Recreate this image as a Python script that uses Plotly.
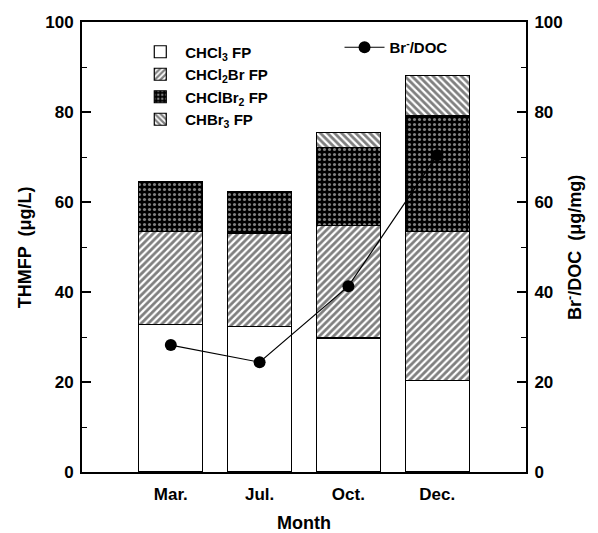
import plotly.graph_objects as go

months = ["Mar.", "Jul.", "Oct.", "Dec."]
chcl3 = [32.7, 32.4, 29.8, 20.4]
chcl2br = [20.8, 20.7, 24.9, 33.1]
chclbr2 = [10.8, 9.3, 17.5, 25.8]
chbr3 = [0.3, 0.0, 3.3, 8.9]
br_doc = [28.2, 24.4, 41.3, 70.4]

FONT = "Liberation Sans, Arial, sans-serif"
fig = go.Figure()

def bar(name, vals, shape, bg="white", fg="black", size=6, solidity=0.35):
    pat = dict(shape=shape, bgcolor=bg, fgcolor=fg, size=size, solidity=solidity, fillmode="overlay") if shape else None
    fig.add_trace(go.Bar(
        x=months, y=vals, name=name, width=0.72,
        marker=dict(color="white", line=dict(color="black", width=1.2), pattern=pat),
        legend="legend",
    ))

bar("CHCl<sub>3</sub> FP", chcl3, "")
bar("CHCl<sub>2</sub>Br FP", chcl2br, "/", size=5, solidity=0.55)
bar("CHClBr<sub>2</sub> FP", chclbr2, ".", bg="black", fg="white", size=5, solidity=0.3)
bar("CHBr<sub>3</sub> FP", chbr3, "\\", size=5, solidity=0.55)

fig.add_trace(go.Scatter(
    x=months, y=br_doc, name="Br<sup>-</sup>/DOC", yaxis="y2",
    mode="lines+markers", line=dict(color="black", width=1.2),
    marker=dict(color="black", size=12), legend="legend2",
))

tick_font = dict(family=FONT, size=17, color="black", weight="bold")
title_font = dict(family=FONT, size=18, color="black", weight="bold")
yax_common = dict(
    range=[0, 100], tickvals=[0, 20, 40, 60, 80, 100],
    showline=True, linecolor="black", linewidth=2, showgrid=False, zeroline=False,
    ticks="inside", ticklen=9, tickwidth=1.5, tickcolor="black",
    minor=dict(tickvals=[10, 30, 50, 70, 90], ticks="inside", ticklen=5, tickwidth=1, tickcolor="black"),
    tickfont=tick_font, automargin=False, ticklabelstandoff=3,
)
# the page body has an 8px default margin; shrink the figure to compensate
fig.update_layout(
    width=590, height=525,
    margin=dict(l=74, r=72, t=14, b=61),
    plot_bgcolor="white", paper_bgcolor="white",
    barmode="stack",
    font=dict(family=FONT, color="black", weight="bold"),
    xaxis=dict(
        range=[-1, 4], showline=True, linecolor="black", linewidth=2, mirror=True,
        ticks="", tickfont=tick_font, showgrid=False, automargin=False,
        ticklabelstandoff=6,
        title=dict(text="Month", font=title_font),
    ),
    yaxis=dict(yax_common),
    yaxis2=dict(yax_common, overlaying="y", side="right"),
    annotations=[
        dict(text="THMFP  (μg/L)", font=title_font, textangle=-90, showarrow=False,
             xref="paper", yref="paper", x=-0.128, y=0.5, xanchor="center", yanchor="middle"),
        dict(text="Br<sup>-</sup>/DOC  (μg/mg)", font=title_font, textangle=-90, showarrow=False,
             xref="paper", yref="paper", x=1.108, y=0.5, xanchor="center", yanchor="middle"),
    ],
    legend=dict(
        x=0.12, y=0.97, xanchor="left", yanchor="top", traceorder="normal",
        font=dict(family=FONT, size=15, weight="bold"), bgcolor="rgba(0,0,0,0)", itemwidth=40,
        tracegroupgap=2,
    ),
    legend2=dict(
        x=0.58, y=0.98, xanchor="left", yanchor="top",
        font=dict(family=FONT, size=15, weight="bold"), bgcolor="rgba(0,0,0,0)", itemwidth=40,
    ),
    showlegend=True,
)

fig.write_html("out.html")
